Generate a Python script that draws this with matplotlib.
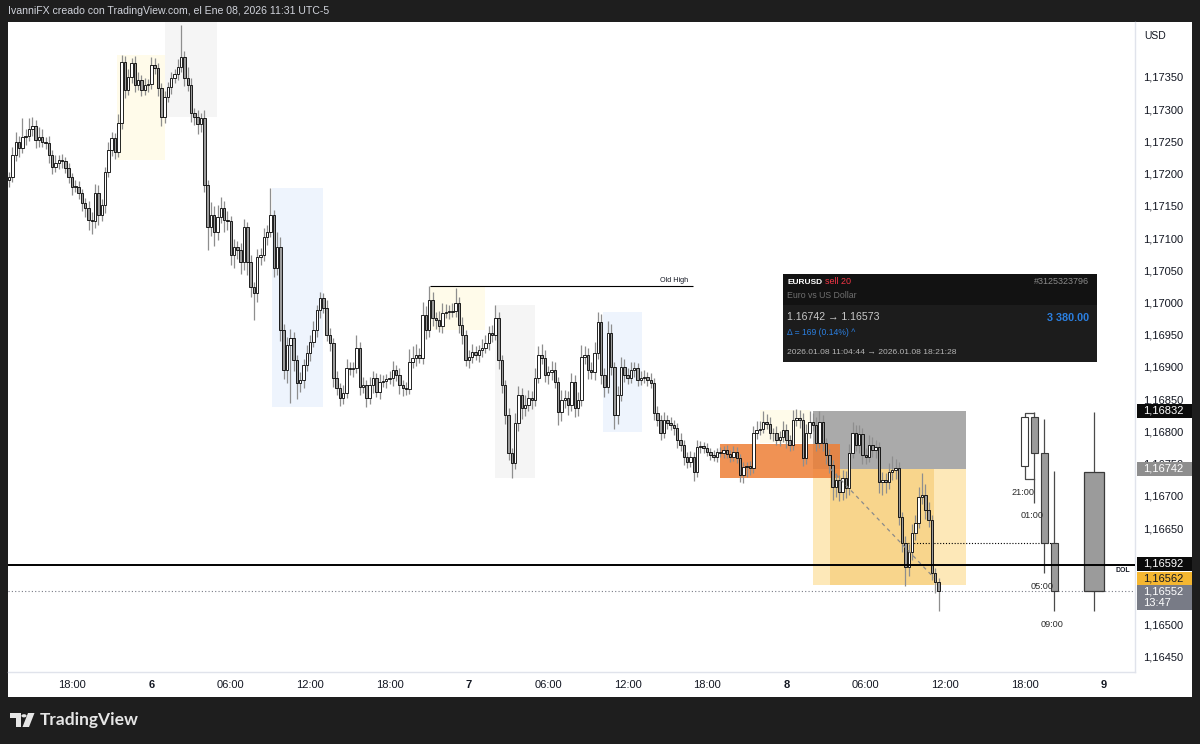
import numpy as np
import matplotlib
matplotlib.use("Agg")
import matplotlib.pyplot as plt
from matplotlib.patches import Rectangle, Polygon, Circle
from matplotlib import transforms

plt.rcParams['font.family'] = ['Liberation Sans', 'DejaVu Sans']

# ---------------- data: EURUSD 15-minute candles (UTC-5), Jan 5 13:15 -> Jan 8 11:30 ----------------
first_open = 1.17190
closes = [
    1.17195, 1.17229, 1.17249, 1.17240, 1.17257, 1.17258, 1.17269, 1.17274, 1.17252, 1.17257,
    1.17249, 1.17248, 1.17229, 1.17210, 1.17217, 1.17221, 1.17220, 1.17209, 1.17195, 1.17179,
    1.17180, 1.17170, 1.17154, 1.17147, 1.17128, 1.17127, 1.17170, 1.17136, 1.17151, 1.17203,
    1.17237, 1.17255, 1.17234, 1.17279, 1.17373, 1.17330, 1.17350, 1.17372, 1.17338, 1.17345,
    1.17330, 1.17338, 1.17339, 1.17369, 1.17364, 1.17333, 1.17288, 1.17319, 1.17334, 1.17348,
    1.17355, 1.17366, 1.17381, 1.17348, 1.17338, 1.17294, 1.17288, 1.17277, 1.17286, 1.17182,
    1.17117, 1.17136, 1.17109, 1.17133, 1.17147, 1.17128, 1.17127, 1.17074, 1.17086, 1.17082,
    1.17063, 1.17117, 1.17063, 1.17024, 1.17015, 1.17071, 1.17074, 1.17102, 1.17109, 1.17136,
    1.17054, 1.17086, 1.16957, 1.16895, 1.16934, 1.16945, 1.16911, 1.16875, 1.16880, 1.16903,
    1.16922, 1.16939, 1.16957, 1.16988, 1.17007, 1.16992, 1.16950, 1.16937, 1.16883, 1.16867,
    1.16852, 1.16860, 1.16898, 1.16897, 1.16899, 1.16929, 1.16869, 1.16872, 1.16852, 1.16872,
    1.16883, 1.16861, 1.16877, 1.16878, 1.16881, 1.16883, 1.16895, 1.16888, 1.16872, 1.16867,
    1.16866, 1.16908, 1.16914, 1.16919, 1.16914, 1.16981, 1.16957, 1.17004, 1.16976, 1.16973,
    1.16964, 1.16984, 1.16985, 1.16986, 1.16987, 1.16999, 1.16965, 1.16950, 1.16911, 1.16916,
    1.16923, 1.16919, 1.16926, 1.16929, 1.16937, 1.16953, 1.16950, 1.16976, 1.16911, 1.16872,
    1.16826, 1.16767, 1.16751, 1.16813, 1.16857, 1.16836, 1.16841, 1.16852, 1.16849, 1.16883,
    1.16919, 1.16914, 1.16888, 1.16892, 1.16895, 1.16877, 1.16830, 1.16849, 1.16852, 1.16841,
    1.16877, 1.16836, 1.16849, 1.16916, 1.16919, 1.16895, 1.16892, 1.16922, 1.16970, 1.16888,
    1.16869, 1.16953, 1.16900, 1.16826, 1.16857, 1.16900, 1.16888, 1.16883, 1.16895, 1.16898,
    1.16880, 1.16883, 1.16884, 1.16880, 1.16875, 1.16829, 1.16818, 1.16798, 1.16818, 1.16813,
    1.16810, 1.16805, 1.16787, 1.16779, 1.16760, 1.16753, 1.16760, 1.16737, 1.16776, 1.16777,
    1.16774, 1.16768, 1.16763, 1.16760, 1.16768, 1.16767, 1.16771, 1.16765, 1.16760, 1.16768,
    1.16759, 1.16732, 1.16745, 1.16746, 1.16743, 1.16798, 1.16802, 1.16804, 1.16815, 1.16812,
    1.16798, 1.16797, 1.16787, 1.16791, 1.16802, 1.16787, 1.16779, 1.16818, 1.16821, 1.16818,
    1.16759, 1.16798, 1.16815, 1.16810, 1.16782, 1.16815, 1.16782, 1.16763, 1.16748, 1.16714,
    1.16725, 1.16706, 1.16728, 1.16712, 1.16767, 1.16798, 1.16779, 1.16796, 1.16763, 1.16760,
    1.16779, 1.16771, 1.16776, 1.16722, 1.16725, 1.16721, 1.16737, 1.16740, 1.16743, 1.16667,
    1.16627, 1.16590, 1.16613, 1.16642, 1.16658, 1.16698, 1.16701, 1.16678, 1.16663, 1.16580,
    1.16566, 1.16552,
]
# wick lengths beyond the body, in points (0.00001)
wick_up_pts = [
    8, 12, 15, 10, 30, 12, 18, 14, 10, 16,
    12, 8, 10, 8, 12, 8, 10, 6, 8, 6,
    10, 8, 6, 8, 10, 12, 14, 12, 10, 8,
    12, 10, 8, 14, 11, 10, 12, 8, 10, 12,
    8, 10, 8, 12, 10, 8, 8, 10, 8, 10,
    8, 12, 50, 10, 18, 10, 8, 10, 8, 12,
    8, 20, 14, 18, 16, 10, 14, 8, 12, 10,
    10, 12, 8, 10, 8, 12, 10, 14, 12, 42,
    8, 24, 16, 10, 12, 14, 10, 8, 12, 10,
    12, 10, 14, 8, 10, 8, 12, 10, 8, 10,
    8, 12, 14, 10, 8, 20, 10, 12, 8, 12,
    10, 8, 12, 10, 8, 10, 14, 8, 10, 8,
    10, 20, 18, 16, 10, 20, 14, 22, 12, 10,
    14, 16, 12, 10, 12, 24, 10, 12, 8, 10,
    12, 10, 8, 14, 12, 10, 12, 20, 10, 8,
    8, 10, 8, 16, 14, 10, 16, 12, 10, 16,
    14, 16, 12, 10, 14, 12, 8, 16, 12, 10,
    14, 10, 12, 18, 14, 10, 12, 16, 16, 12,
    10, 18, 14, 8, 14, 16, 12, 10, 12, 10,
    8, 10, 12, 8, 10, 8, 10, 8, 12, 8,
    10, 8, 8, 10, 8, 8, 10, 8, 10, 8,
    6, 8, 6, 8, 6, 8, 6, 8, 6, 10,
    8, 6, 8, 6, 8, 10, 14, 12, 16, 12,
    10, 8, 12, 10, 14, 10, 8, 16, 14, 12,
    10, 14, 16, 14, 12, 16, 10, 8, 10, 8,
    10, 8, 12, 10, 14, 16, 12, 14, 10, 12,
    16, 12, 10, 8, 12, 10, 14, 22, 14, 10,
    8, 10, 12, 14, 12, 16, 34, 18, 12, 8,
    8, 6,
]
wick_dn_pts = [
    10, 8, 10, 14, 8, 12, 8, 10, 12, 10,
    8, 10, 12, 10, 8, 10, 12, 8, 10, 12,
    8, 10, 12, 14, 16, 20, 12, 16, 10, 12,
    8, 10, 12, 8, 10, 12, 8, 10, 12, 8,
    10, 8, 12, 8, 10, 12, 14, 10, 8, 10,
    8, 10, 8, 12, 10, 14, 12, 16, 12, 10,
    36, 14, 22, 12, 10, 18, 14, 16, 20, 14,
    18, 12, 20, 16, 42, 14, 12, 10, 12, 8,
    14, 12, 16, 14, 20, 90, 18, 24, 14, 12,
    10, 12, 8, 10, 12, 8, 10, 12, 14, 10,
    12, 10, 8, 10, 12, 8, 12, 10, 14, 10,
    12, 8, 10, 8, 10, 8, 12, 10, 14, 12,
    10, 8, 10, 12, 8, 10, 14, 10, 12, 14,
    10, 12, 8, 10, 8, 10, 12, 14, 10, 12,
    10, 8, 12, 10, 8, 10, 12, 8, 14, 12,
    14, 12, 24, 10, 12, 16, 12, 10, 14, 10,
    8, 10, 12, 14, 12, 10, 20, 14, 12, 16,
    10, 14, 12, 10, 12, 14, 10, 12, 10, 14,
    16, 10, 12, 22, 14, 10, 12, 10, 8, 10,
    10, 8, 8, 10, 8, 12, 10, 12, 8, 10,
    8, 10, 12, 10, 12, 10, 8, 14, 8, 10,
    8, 6, 8, 6, 8, 6, 8, 6, 8, 6,
    8, 10, 12, 16, 10, 8, 10, 8, 6, 8,
    10, 12, 8, 10, 8, 12, 10, 8, 10, 12,
    12, 10, 8, 10, 12, 8, 12, 14, 12, 20,
    16, 14, 12, 16, 10, 8, 10, 12, 14, 10,
    8, 10, 12, 18, 20, 16, 10, 12, 14, 12,
    14, 30, 14, 12, 10, 8, 10, 14, 12, 10,
    16, 30,
]

# time axis (bar index 19 = Jan 5 18:00, one label every 6 hours)
time_ticks = [19 + 24 * k for k in range(14)]
time_labels = ['18:00', '6', '06:00', '12:00', '18:00', '7', '06:00', '12:00',
               '18:00', '8', '06:00', '12:00', '18:00', '9']
day_labels = {'6', '7', '8', '9'}
price_ticks = np.round(np.arange(1.16450, 1.173501, 0.0005), 5)
# scale levels sitting under the DOL / last-price tags
hidden_ticks = {1.16600, 1.16550}

# 4h candles and the current daily candle shown on the right
htf_labels = ['21:00', '01:00', '05:00', '09:00']
htf_open = [1.16746, 1.16822, 1.16767, 1.16627]
htf_high = [1.16829, 1.16830, 1.16819, 1.16739]
htf_low = [1.16726, 1.16689, 1.16580, 1.16521]
htf_close = [1.16822, 1.16767, 1.16627, 1.16552]
day_ohlc = [1.16737, 1.16830, 1.16521, 1.16552]

# session ranges (start bar, end bar, top, bottom, kind)
session_start = [32.6, 47.1, 79.5, 127.2, 146.9, 179.5, 227.0]
session_end = [47.1, 62.8, 94.9, 143.9, 159.0, 191.3, 242.0]
session_top = [1.17384, 1.17450, 1.17178, 1.17024, 1.16996, 1.16985, 1.16833]
session_bottom = [1.17221, 1.17288, 1.16838, 1.16957, 1.16728, 1.16799, 1.16782]
session_kind = ['asia', 'london', 'ny', 'asia', 'london', 'ny', 'asia']
session_colors = {'asia': '#fffbea', 'london': '#f5f5f5', 'ny': '#eef4fd'}

# trade and levels
entry_price, exit_price = 1.16742, 1.16573
stop_price, target_price = 1.16832, 1.16562
entry_bar, exit_bar = 248.3, 279.6
zone_start, zone_end = 243.0, 289.3
order_block = (214.9, 251.2, 1.16728, 1.16780)
dol_price = 1.16592
h4_open_level = 1.16627
old_high_price = 1.17026
old_high_span = (127.2, 206.7)
last_price = 1.16552

# ---------------- figure ----------------
W, H = 1200, 744
fig = plt.figure(figsize=(W / 100, H / 100), dpi=100, facecolor='#1e1e1e')


def fx(px):
    return px / W


def fy(py):
    return 1 - py / H


fig.add_artist(Rectangle((fx(8), fy(697)), fx(1192) - fx(8), fy(22) - fy(697),
                         transform=fig.transFigure, facecolor='white', edgecolor='none', zorder=0))

ax = fig.add_axes([fx(8), fy(672), fx(1135) - fx(8), fy(22) - fy(672)])
ax.set_facecolor('white')
ax.set_xlim(-0.35, 340.4)
ax.set_ylim(1.164267, 1.174353)

# sessions
for s, e, t, b, k in zip(session_start, session_end, session_top, session_bottom, session_kind):
    ax.add_patch(Rectangle((s, b), e - s, t - b, facecolor=session_colors[k], edgecolor='none', zorder=1))

# trade zones
ax.add_patch(Rectangle((zone_start, entry_price), zone_end - zone_start, stop_price - entry_price,
                       facecolor='#aaaaaa', edgecolor='none', zorder=1.5))
ax.add_patch(Rectangle((zone_start, target_price), zone_end - zone_start, entry_price - target_price,
                       facecolor='#fde8b8', edgecolor='none', zorder=1.5))
ax.add_patch(Rectangle((entry_bar, target_price), exit_bar - entry_bar, entry_price - target_price,
                       facecolor='#f8d58c', edgecolor='none', zorder=1.6))
ob_s, ob_e, ob_b, ob_t = order_block
ax.add_patch(Rectangle((ob_s, ob_b), ob_e - ob_s, ob_t - ob_b,
                       facecolor='#ee7f36', edgecolor='none', alpha=0.85, zorder=2))

# candles
c = np.array(closes)
o = np.concatenate([[first_open], c[:-1]])
idx = np.arange(len(c))
hi = np.maximum(o, c) + np.array(wick_up_pts) * 1e-5
lo = np.minimum(o, c) - np.array(wick_dn_pts) * 1e-5
ax.vlines(idx, lo, hi, color='#8e8e8e', lw=0.9, zorder=4)
body_h = np.maximum(np.abs(c - o), 0.000012)
body_col = np.where(c >= o, 'white', '#9b9b9b')
ax.bar(idx, body_h, bottom=np.minimum(o, c), width=0.74, color=body_col,
       edgecolor='black', linewidth=0.6, zorder=5)

# trade path
ax.plot([entry_bar, exit_bar], [entry_price, exit_price], color='#8a8a8a', lw=0.9,
        ls=(0, (3, 3)), zorder=6)

# levels
ax.hlines(old_high_price, *old_high_span, color='black', lw=0.8, zorder=3)
ax.text(old_high_span[1] - 1.5, old_high_price, 'Old High', fontsize=5.2, color='#131722',
        ha='right', va='bottom', zorder=7,
        transform=transforms.offset_copy(ax.transData, fig=fig, y=2, units='dots'))
ax.axhline(dol_price, color='black', lw=1.4, zorder=6)
ax.axhline(last_price, color='#787b86', lw=0.8, ls=(0, (1, 2)), zorder=3)
ax.text(336.8, dol_price, 'DOL', fontsize=5, fontweight='bold', color='#131722', ha='center', va='top',
        transform=transforms.offset_copy(ax.transData, fig=fig, y=-2, units='dots'), zorder=7)

# higher timeframe candles
n = len(closes)
htf_x = [n + 25 + 3 * k for k in range(len(htf_open))]
ax.hlines(h4_open_level, 271, htf_x[-1] + 1.2, color='black', lw=0.8, ls=(0, (1, 1.6)), zorder=3)
ho, hh, hl, hc = map(np.array, (htf_open, htf_high, htf_low, htf_close))
ax.vlines(htf_x[1:], hl[1:], hh[1:], color='#4a4a4a', lw=0.9, zorder=4)
# first candle wicks hook into its neighbour
ax.plot([htf_x[0], htf_x[0], htf_x[1]], [max(ho[0], hc[0]), hh[0], hh[0]], color='#4a4a4a', lw=0.9, zorder=4)
ax.plot([htf_x[0], htf_x[0], htf_x[1]], [min(ho[0], hc[0]), hl[0], hl[0]], color='#4a4a4a', lw=0.9, zorder=4)
ax.bar(htf_x, np.abs(hc - ho), bottom=np.minimum(ho, hc), width=2.0,
       color=np.where(hc >= ho, 'white', '#9b9b9b'), edgecolor='#3a3a3a', linewidth=0.8, zorder=5)
for x, l, lab in zip(htf_x, hl, htf_labels):
    ax.text(x - 0.6, l, lab, fontsize=6.6, color='#2a2a2a', ha='center', va='center', zorder=7,
            transform=transforms.offset_copy(ax.transData, fig=fig, y=-13, units='dots'))
d_o, d_h, d_l, d_c = day_ohlc
day_x = n + 46
ax.vlines(day_x, d_l, d_h, color='#4a4a4a', lw=0.9, zorder=4)
ax.bar([day_x], [abs(d_c - d_o)], bottom=[min(d_o, d_c)], width=6.0,
       color='#9b9b9b' if d_c < d_o else 'white', edgecolor='#3a3a3a', linewidth=0.9, zorder=5)

# axes styling
for side in ('left', 'top'):
    ax.spines[side].set_visible(False)
for side in ('right', 'bottom'):
    ax.spines[side].set_color('#e0e3eb')
    ax.spines[side].set_linewidth(1.0)
ax.yaxis.tick_right()
ax.set_yticks(price_ticks)
ax.set_yticklabels(['' if p in hidden_ticks else f'{p:.5f}'.replace('.', ',') for p in price_ticks])
ax.tick_params(axis='y', length=0, pad=6, labelsize=8, labelcolor='#131722')
ax.set_xticks(time_ticks)
ax.set_xticklabels(time_labels)
ax.tick_params(axis='x', length=0, pad=6, labelsize=8, labelcolor='#131722')
for t in ax.get_xticklabels():
    if t.get_text() in day_labels:
        t.set_fontweight('bold')

# price scale tags
ytrans = transforms.blended_transform_factory(ax.transAxes, ax.transData)
px_price = (ax.get_ylim()[1] - ax.get_ylim()[0]) / 650.0
tag_x0, tag_x1 = 1.0018, 1.0506


def price_tag(price, text, bg, fg, shift_px=0.0, above_px=7, below_px=7, sub=None):
    tr = transforms.offset_copy(ytrans, fig=fig, y=shift_px, units='dots')
    ax.add_patch(Rectangle((tag_x0, price - below_px * px_price), tag_x1 - tag_x0,
                           (above_px + below_px) * px_price, transform=tr, facecolor=bg,
                           edgecolor='none', clip_on=False, zorder=20))
    ax.text(1.0071, price, text, transform=tr, fontsize=8, color=fg, ha='left', va='center',
            clip_on=False, zorder=21)
    if sub:
        ax.text(1.0071, price, sub, fontsize=8, color=fg, ha='left', va='center', clip_on=False, zorder=21,
                transform=transforms.offset_copy(ytrans, fig=fig, y=shift_px - 12, units='dots'))


price_tag(stop_price, '1,16832', '#0b0b0b', 'white')
price_tag(entry_price, '1,16742', '#8e8e8e', 'white')
price_tag(dol_price, '1,16592', '#0b0b0b', 'white', shift_px=1.5)
price_tag(target_price, '1,16562', '#f5b731', '#131722', shift_px=6)
price_tag(last_price, '1,16552', '#787b86', 'white', above_px=6, below_px=19, sub='13:47')

fig.text(fx(1155), fy(36), 'USD', fontsize=7.5, color='#131722', ha='center', va='center')

# trade info panel
fig.add_artist(Rectangle((fx(783), fy(362)), fx(1097) - fx(783), fy(274) - fy(362),
                         transform=fig.transFigure, facecolor='#1c1c1c', edgecolor='none', zorder=30))
fig.add_artist(Rectangle((fx(783), fy(305)), fx(1097) - fx(783), fy(274) - fy(305),
                         transform=fig.transFigure, facecolor='#121212', edgecolor='none', zorder=31))
fig.text(fx(787), fy(282), 'EURUSD', fontsize=6.0, fontweight='bold', color='white', va='center', zorder=32)
fig.text(fx(825), fy(282), 'sell 20', fontsize=6.5, color='#f23645', va='center', zorder=32)
fig.text(fx(1089), fy(281), '#3125323796', fontsize=6.5, color='#8a8a8a', ha='right', va='center', zorder=32)
fig.text(fx(787), fy(295), 'Euro vs US Dollar', fontsize=6.3, color='#6f6f6f', va='center', zorder=32)
fig.text(fx(787), fy(317), '1.16742 → 1.16573', fontsize=7.6, color='#c9c9c9', va='center', zorder=32)
fig.text(fx(1089), fy(318), '3 380.00', fontsize=7.8, fontweight='bold', color='#2b7fe0',
         ha='right', va='center', zorder=32)
fig.text(fx(787), fy(332), 'Δ = 169 (0.14%) ^', fontsize=6.2, color='#2b7fe0', va='center', zorder=32)
fig.text(fx(787), fy(353), '2026.01.08 11:04:44 → 2026.01.08 18:21:28', fontsize=6.1,
         color='#b5b5b5', va='center', zorder=32)

# header and footer
fig.text(fx(8), fy(11.5), 'IvanniFX creado con TradingView.com, el Ene 08, 2026 11:31 UTC-5',
         fontsize=7.6, color='#d1d4dc', va='center')
logo = '#e6e6e6'
fig.add_artist(Polygon([(fx(10), fy(713)), (fx(20.5), fy(713)), (fx(20.5), fy(727)), (fx(15.5), fy(727)),
                        (fx(15.5), fy(718)), (fx(10), fy(718))], closed=True, transform=fig.transFigure,
                       facecolor=logo, edgecolor='none'))
fig.add_artist(Circle((fx(24), fy(715.8)), 2.6 / W, transform=fig.transFigure, facecolor=logo, edgecolor='none'))
fig.add_artist(Polygon([(fx(28), fy(713)), (fx(34.5), fy(713)), (fx(29), fy(727)), (fx(22.5), fy(727))],
                       closed=True, transform=fig.transFigure, facecolor=logo, edgecolor='none'))
fig.text(fx(40), fy(719.5), 'TradingView', fontsize=12.5, fontweight='bold', color=logo,
         va='center', family=['Lato', 'DejaVu Sans'])

fig.savefig('out.png', dpi=100, facecolor=fig.get_facecolor())
